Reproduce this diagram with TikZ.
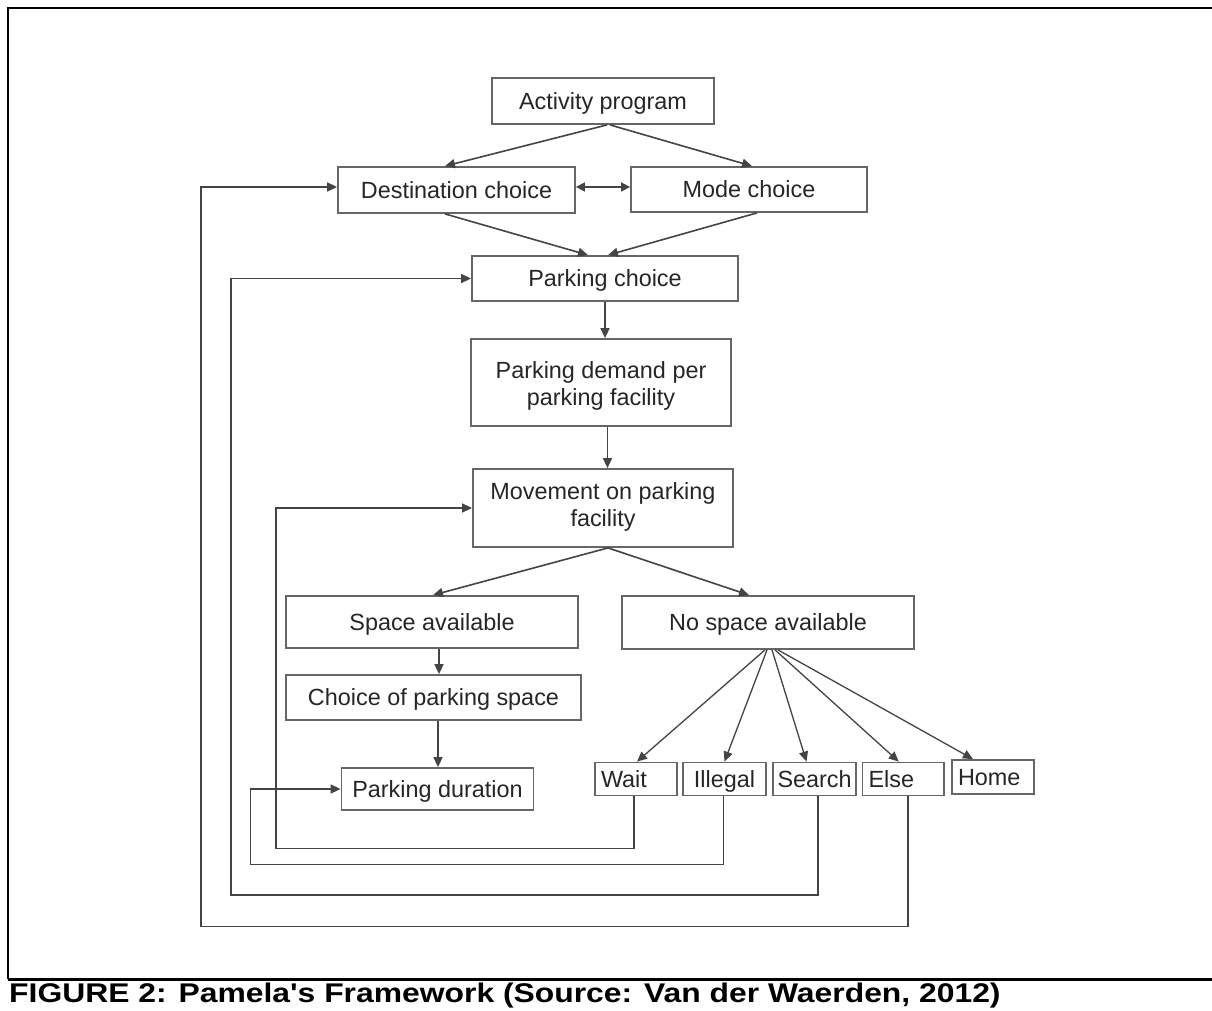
\documentclass[tikz,border=0pt]{standalone}
\usepackage{fontspec}
\setmainfont{Liberation Sans}
\usetikzlibrary{arrows.meta,calc}
\definecolor{linegray}{HTML}{444444}
\definecolor{boxgray}{HTML}{666666}
\definecolor{txtgray}{HTML}{262626}
\begin{document}
\begin{tikzpicture}[x=1pt,y=-1pt,
  box/.style={draw=boxgray,line width=1.8pt,inner sep=0pt,
    font=\fontsize{23.4}{27}\selectfont,text=txtgray,align=center},
  onebox/.style={box,text depth=0pt},
  smallbox/.style={onebox,minimum height=33pt,inner xsep=6pt,align=left},
  arr/.style={draw=linegray,line width=1.6pt,-{Triangle[length=10pt,width=9pt]}},
  thinarr/.style={arr,line width=1.3pt},
  frameline/.style={draw=black,line width=2.5pt}]
\useasboundingbox (0,0) rectangle (1212,1011);
\fill[white] (0,0) rectangle (1212,1011);

% frame
\draw[frameline] (1212,8) -- (8,8) -- (8,979);
\draw[frameline,line width=3pt] (8,979) -- (1212,979);

% nodes
\node[onebox,minimum width=222pt,minimum height=46pt] (act) at (603,101) {Activity program};
\node[onebox,minimum width=237pt,minimum height=46pt] (dest) at (456.5,190) {Destination choice};
\node[onebox,minimum width=236pt,minimum height=45pt] (mode) at (749,189.5) {Mode choice};
\node[onebox,minimum width=266pt,minimum height=45pt] (pchoice) at (605,278.5) {Parking choice};
\node[box,minimum width=260pt,minimum height=87pt] (demand) at (601,382.5)
  {\raisebox{-4pt}[\height][\depth]{\begin{tabular}{@{}c@{}}Parking demand per\\parking facility\end{tabular}}};
\node[box,minimum width=260pt,minimum height=78pt] (move) at (603,508)
  {\begin{tabular}{@{}c@{}}Movement on parking\\facility\end{tabular}};
\node[onebox,minimum width=292pt,minimum height=52pt] (space) at (432,622) {Space available};
\node[onebox,minimum width=292pt,minimum height=53pt] (nospace) at (768,622.5) {No space available};
\node[onebox,minimum width=295pt,minimum height=45pt] (choicesp) at (433.5,697.5) {Choice of parking space};
\node[onebox,minimum width=192pt,minimum height=42pt] (duration) at (437.5,789) {Parking duration};

\node[smallbox,text width=70pt] (wait) at (636,779) {Wait};
\node[smallbox,text width=71pt,align=center] (illegal) at (724.5,779) {Illegal};
\node[smallbox,text width=74pt,inner xsep=4.5pt] (search) at (814.5,779) {Search};
\node[smallbox,text width=69.5pt] (elsebox) at (903.25,779) {Else};
\node[smallbox,text width=70pt,minimum height=34pt] (home) at (993,777) {Home};

% top connectors
\draw[arr] ([xshift=4pt]act.south) -- ([xshift=-11.5pt]dest.north);
\draw[arr] ([xshift=7pt]act.south) -- ([xshift=3pt]mode.north);
\draw[draw=linegray,line width=1.6pt,{Triangle[length=9pt,width=9pt]}-{Triangle[length=9pt,width=9pt]}]
  ([yshift=3pt]dest.east) -- ([yshift=3pt]dest.east -| mode.west);
\draw[arr] ([xshift=-11.5pt]dest.south) -- ([xshift=-17pt]pchoice.north);
\draw[arr] ([xshift=8pt]mode.south) -- ([xshift=3pt]pchoice.north);
\draw[arr] (pchoice.south) -- (pchoice.south |- demand.north);
\draw[arr] ([xshift=6.5pt]demand.south) -- ([xshift=6.5pt]demand.south |- move.north);
\draw[arr] ([xshift=5pt]move.south) -- ([xshift=1pt]space.north);
\draw[arr] ([xshift=5pt]move.south) -- ([xshift=-19pt]nospace.north);
\draw[arr] ([xshift=7pt]space.south) -- ([xshift=7pt]space.south |- choicesp.north);
\draw[arr] ([xshift=4.5pt]choicesp.south) -- ([xshift=4.5pt]choicesp.south |- duration.north);

% from no space available
\draw[thinarr] ([xshift=-3pt]nospace.south) -- ([xshift=1pt]wait.north);
\draw[thinarr] ([xshift=-1pt]nospace.south) -- (illegal.north);
\draw[thinarr] ([xshift=4pt]nospace.south) -- ([xshift=-8pt]search.north);
\draw[thinarr] ([xshift=7pt]nospace.south) -- ([xshift=-4.5pt]elsebox.north);
\draw[thinarr] ([xshift=10pt]nospace.south) -- ([xshift=-20pt]home.north);

% feedback loops
\draw[arr] ([xshift=-2pt]wait.south) -- ++(0,52) -| ([xshift=-196pt]move.west) -- (move.west);
\draw[arr] ([xshift=-1pt]illegal.south) -- ++(0,68) -| ([xshift=-90pt]duration.west) -- (duration.west);
\draw[arr] ([xshift=3.5pt]search.south) -- ++(0,98.5) -| ([xshift=-240pt]pchoice.west) -- (pchoice.west);
\draw[arr] ([xshift=5pt]elsebox.south) -- ++(0,130) -| ([xshift=-136pt,yshift=3pt]dest.west) -- ([yshift=3pt]dest.west);

% caption
\node[anchor=west,inner sep=0pt,font=\bfseries\fontsize{27}{32}\selectfont] (cap) at (9,996)
  {\scalebox{1.18}[1]{FIGURE 2: Pamela\textquotesingle s Framework (Source: Van der Waerden, 2012)}};
\end{tikzpicture}
\end{document}
